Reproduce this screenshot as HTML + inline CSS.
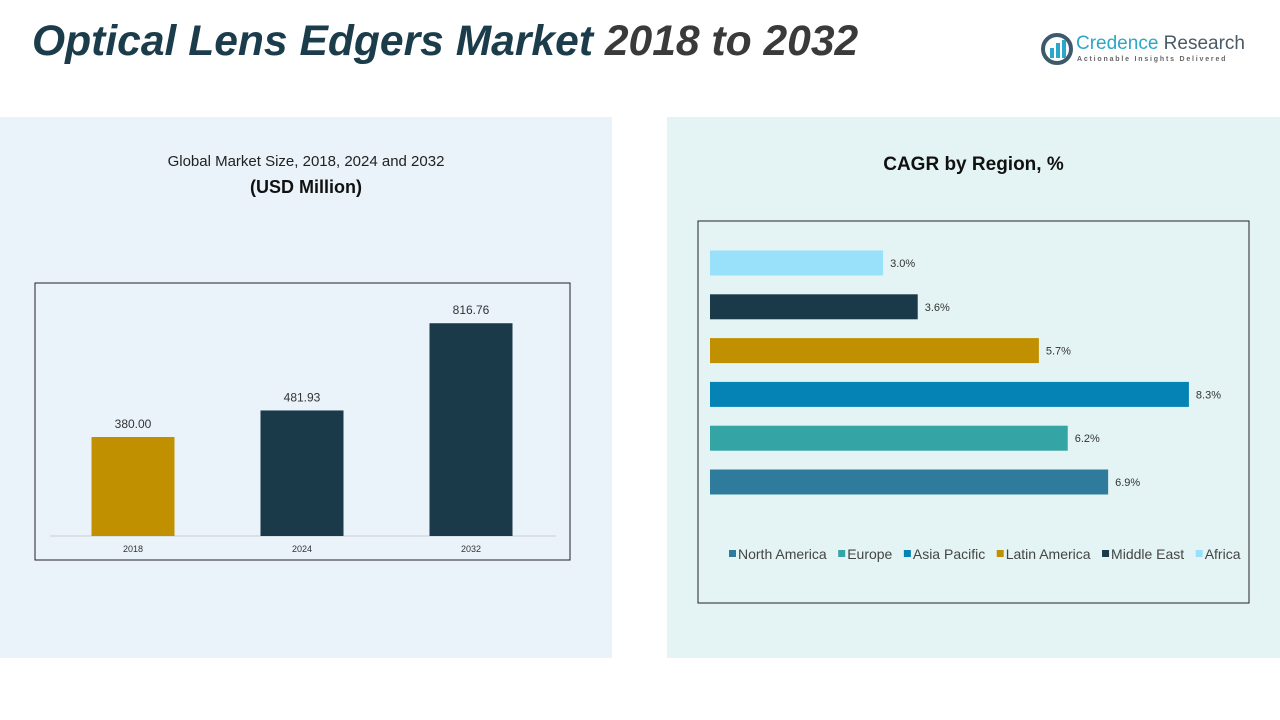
<!DOCTYPE html>
<html><head><meta charset="utf-8"><style>
body{margin:0;width:1280px;height:720px;position:relative;background:#fff;font-family:"Liberation Sans",sans-serif;overflow:hidden}
.abs{position:absolute}
</style></head><body>
<div class="abs" style="left:32px;top:17px;font-size:42.6px;font-weight:bold;font-style:italic;color:#1b3c4b;white-space:nowrap">Optical Lens Edgers Market <span style="color:#3a3a3a">2018 to 2032</span></div>
<div class="abs" style="left:1040px;top:30px;width:220px;height:40px">
<svg width="34" height="34" style="position:absolute;left:0;top:2px"><circle cx="17" cy="17" r="14" fill="none" stroke="#3d5a6c" stroke-width="4"/><rect x="10" y="16" width="4" height="10" fill="#2aa7c9"/><rect x="16" y="11" width="4" height="15" fill="#2aa7c9"/><rect x="22" y="8" width="4" height="18" fill="#2aa7c9"/></svg>
<div class="abs" style="left:36px;top:3px;font-size:19px;color:#2aa7c9;white-space:nowrap">Credence <span style="color:#4a5a66">Research</span></div>
<div class="abs" style="left:37px;top:26px;font-size:7px;letter-spacing:1.8px;color:#666;white-space:nowrap;font-weight:bold">Actionable Insights Delivered</div>
</div>
<div class="abs" style="left:0;top:117px;width:612px;height:541px;background:#eaf3f9"></div>
<div class="abs" style="left:667px;top:117px;width:613px;height:541px;background:#e4f4f4"></div>
<div class="abs" style="left:0;top:153px;width:612px;text-align:center;font-size:15px;color:#222">Global Market Size, 2018, 2024 and 2032</div>
<div class="abs" style="left:0;top:177px;width:612px;text-align:center;font-size:18px;font-weight:bold;color:#111">(USD Million)</div>
<div class="abs" style="left:667px;top:154px;width:613px;text-align:center;font-size:19px;font-weight:bold;color:#111">CAGR by Region, %</div>
<svg class="abs" style="left:0;top:0" width="1280" height="720" id="charts">
<rect x="35" y="283" width="535" height="277" fill="none" stroke="#222" stroke-width="1"/>
<rect x="698" y="221" width="551" height="382" fill="none" stroke="#222" stroke-width="1"/>
<line x1="50" y1="536" x2="556" y2="536" stroke="#ccc"/>
<g id="left"></g><g id="right"></g>
</svg>
<script>
const years=['2018','2024','2032'];
const sizes=[380.00,481.93,816.76];
const sizeLabels=['380.00','481.93','816.76'];
const regions=['North America','Europe','Asia Pacific','Latin America','Middle East','Africa'];
const cagr=[6.9,6.2,8.3,5.7,3.6,3.0];
const cagrLabels=['6.9%','6.2%','8.3%','5.7%','3.6%','3.0%'];
const NS='http://www.w3.org/2000/svg';
function mk(t,a,p){const e=document.createElementNS(NS,t);for(const k in a)e.setAttribute(k,a[k]);p.appendChild(e);return e;}
const L=document.getElementById('left'),R=document.getElementById('right');
const yS=v=>536-v*0.2605, xC=i=>133+i*169;
const lc=['#c09000','#1a3a4a','#1a3a4a'];
years.forEach((y,i)=>{
 const r=mk('rect',{x:xC(i)-41.5,y:yS(sizes[i]),width:83,height:536-yS(sizes[i]),fill:lc[i]},L);
 
 
 const t=mk('text',{x:xC(i),y:yS(sizes[i])-9,'text-anchor':'middle','font-size':12,fill:'#333','font-family':'Liberation Sans'},L);t.textContent=sizeLabels[i];
 
 
 const x=mk('text',{x:xC(i),y:552,'text-anchor':'middle','font-size':9,fill:'#333','font-family':'Liberation Sans'},L);x.textContent=y;
 
 
});
const rc=['#2e7b9c','#35a4a4','#0683b5','#c09000','#1a3a4a','#99e0fa'];
const xS=v=>v*57.7, yR=i=>482-i*43.8;
regions.forEach((g,i)=>{
 const r=mk('rect',{x:710,y:yR(i)-12.5,width:xS(cagr[i]),height:25,fill:rc[i]},R);
 
 
 const t=mk('text',{x:710+xS(cagr[i])+7,y:yR(i)+4,'font-size':11,fill:'#333','font-family':'Liberation Sans'},R);t.textContent=cagrLabels[i];
 
 
});
let lx=729;
regions.forEach((g,i)=>{
 const gg=mk('g',{},R);
 
 
 mk('rect',{x:lx,y:550,width:7,height:7,fill:rc[i]},gg);
 const t=mk('text',{x:lx+9,y:559,'font-size':14,fill:'#444','font-family':'Liberation Sans'},gg);t.textContent=g;
 lx+=9+t.getComputedTextLength()+11.5;
});
</script>
</body></html>
